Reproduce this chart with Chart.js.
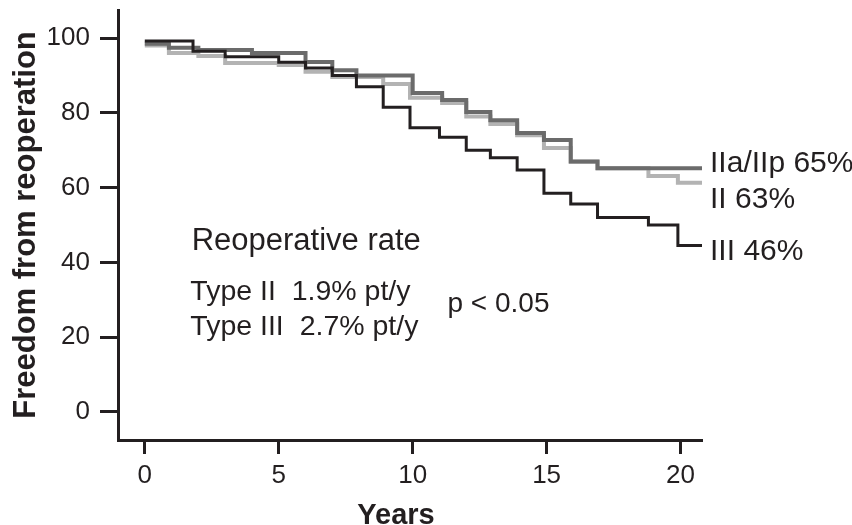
<!DOCTYPE html>
<html>
<head>
<meta charset="utf-8">
<script src="https://cdn.jsdelivr.net/npm/chart.js"></script>
<style>
  html, body { margin: 0; padding: 0; background: #fff; }
</style>
</head>
<body>
<canvas id="kmChart" width="852" height="525"></canvas>
<script>
// Kaplan-Meier style step curves: [years, % free from reoperation]
var curveIII = [[0, 99.2], [1.8, 96.5], [3, 95], [5, 93.5], [6, 92], [7, 90], [7.9, 87], [8.9, 81.5],
    [9.9, 76], [11, 73.5], [12, 70], [12.9, 68], [13.9, 64.7], [14.9, 58.5], [15.9, 55.6],
    [16.9, 52], [18.8, 50], [19.9, 44.5], [20.8, 44.5]];
var curveIIaIIp = [[0, 98.5], [0.9, 97.4], [2, 96.8], [4, 96], [6, 93.6], [7, 91.4], [7.9, 90],
    [10, 85.3], [11.1, 83.4], [12, 80.2], [12.9, 78], [13.9, 74.6], [14.9, 72.7], [15.9, 67],
    [16.9, 65.2], [20.8, 65.2]];
var curveII = [[0, 98], [0.9, 96], [2, 95.2], [3, 93.3], [5, 92.8], [6, 91], [7, 89.6], [8.9, 87.7],
    [9.9, 84], [11.1, 82.6], [12, 79], [12.9, 77], [13.9, 74], [14.9, 70.6], [15.9, 66.9],
    [16.9, 65.2], [18.8, 63.1], [19.9, 61.3], [20.8, 61.3]];

var xTicks = [0, 5, 10, 15, 20];
var yTicks = [0, 20, 40, 60, 80, 100];
var endLabels = ['IIa/IIp 65%', 'II 63%', 'III 46%'];
var rateTitle = 'Reoperative rate';
var rateLines = ['Type II  1.9% pt/y', 'Type III  2.7% pt/y'];
var pText = 'p < 0.05';
var xTitle = 'Years';

function toPoints(arr) {
    return arr.map(function (p) { return {x: p[0], y: p[1]}; });
}

var ink = '#231f20';
var sans = '"Liberation Sans", Arial, Helvetica, sans-serif';

var notes = {
    id: 'notes',
    afterDraw: function (chart) {
        var ctx = chart.ctx;
        var x = chart.scales.x, y = chart.scales.y;
        ctx.save();
        ctx.fillStyle = ink;
        ctx.textAlign = 'left';
        ctx.textBaseline = 'alphabetic';

        ctx.font = '31px ' + sans;
        ctx.fillText(rateTitle, x.getPixelForValue(1.75), y.getPixelForValue(43.3));

        ctx.font = '28.5px ' + sans;
        ctx.fillText(rateLines[0], x.getPixelForValue(1.7), y.getPixelForValue(30));
        ctx.fillText(rateLines[1], x.getPixelForValue(1.7), y.getPixelForValue(20.6));
        ctx.font = '28px ' + sans;
        ctx.fillText(pText, x.getPixelForValue(11.3), y.getPixelForValue(26.7));

        ctx.font = '30px ' + sans;
        ctx.fillText(endLabels[0], x.getPixelForValue(21.1), y.getPixelForValue(64.2));
        ctx.fillText(endLabels[1], x.getPixelForValue(21.1), y.getPixelForValue(54.5));
        ctx.fillText(endLabels[2], x.getPixelForValue(21.1), y.getPixelForValue(40.6));

        ctx.font = 'bold 29px ' + sans;
        ctx.textAlign = 'center';
        ctx.fillText(xTitle, 396, 524);
        ctx.restore();
    }
};

document.addEventListener('DOMContentLoaded', function () {
    var ctx = document.getElementById('kmChart').getContext('2d');
    var kmChart = new Chart(ctx, {
        type: 'line',
        data: {
            datasets: [{
                label: 'III',
                data: toPoints(curveIII),
                borderColor: ink,
                borderWidth: 3
            }, {
                label: 'IIa/IIp',
                data: toPoints(curveIIaIIp),
                borderColor: '#6b6b6b',
                borderWidth: 4
            }, {
                label: 'II',
                data: toPoints(curveII),
                borderColor: '#b3b3b3',
                borderWidth: 4
            }]
        },
        options: {
            responsive: false,
            animation: false,
            devicePixelRatio: 1,
            layout: {
                padding: {left: 8, top: 10, right: 150, bottom: 0}
            },
            elements: {
                line: {stepped: 'before', fill: false, borderCapStyle: 'butt', borderJoinStyle: 'miter'},
                point: {radius: 0}
            },
            plugins: {
                legend: {display: false},
                tooltip: {enabled: false}
            },
            scales: {
                x: {
                    type: 'linear',
                    min: -1,
                    max: 20.8,
                    afterFit: function (s) { s.height = 85; s.paddingLeft = 0; s.paddingRight = 0; },
                    afterBuildTicks: function (s) { s.ticks = xTicks.map(function (v) { return {value: v}; }); },
                    border: {color: ink, width: 3},
                    grid: {drawOnChartArea: false, drawTicks: true, tickLength: 14, tickWidth: 3, tickColor: ink},
                    ticks: {color: ink, padding: 6, font: {family: sans, size: 26}}
                },
                y: {
                    type: 'linear',
                    min: -7.5,
                    max: 107.5,
                    afterFit: function (s) { s.width = 110; s.paddingTop = 0; s.paddingBottom = 0; },
                    afterBuildTicks: function (s) { s.ticks = yTicks.map(function (v) { return {value: v}; }); },
                    border: {color: ink, width: 3},
                    grid: {drawOnChartArea: false, drawTicks: true, tickLength: 18, tickWidth: 3, tickColor: ink},
                    ticks: {color: ink, padding: 10, font: {family: sans, size: 26}},
                    title: {display: true, text: 'Freedom from reoperation', color: ink, padding: 0,
                        font: {family: sans, size: 31, weight: 'bold', lineHeight: 1.2}}
                }
            }
        },
        plugins: [notes]
    });
});
</script>
</body>
</html>
